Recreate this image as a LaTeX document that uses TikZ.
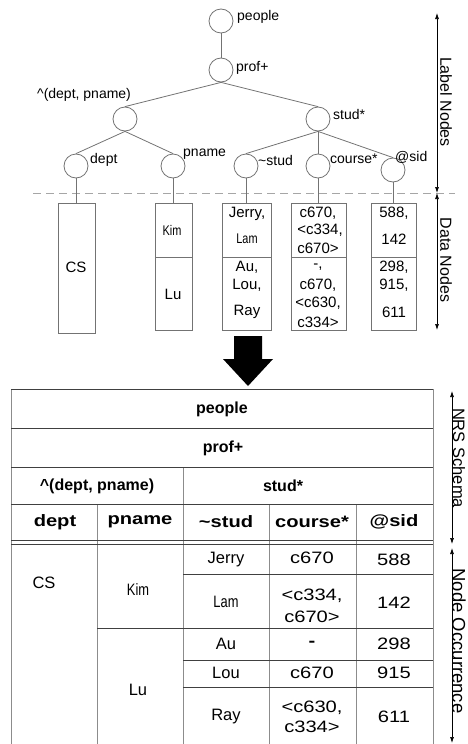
\documentclass[tikz,border=0pt]{standalone}
\usepackage{fontspec}
\setmainfont{Liberation Sans}
\newfontfamily\narrowsans[FakeStretch=0.78]{Liberation Sans}
\newfontfamily\widesans[FakeStretch=1.22]{Liberation Sans}
\usetikzlibrary{arrows.meta}

\tikzset{
  lnode/.style={circle, draw=black!55, line width=0.8pt, minimum size=24pt, inner sep=0pt},
  edge/.style={draw=black!55, line width=0.8pt},
  lbl/.style={anchor=base west, inner sep=0pt, font=\fontsize{14}{16}\selectfont},
  dbox/.style={draw=black!55, line width=0.8pt, inner sep=0pt, minimum width=#1},
  dtxt/.style={inner sep=0pt, font=\fontsize{15}{17}\selectfont},
  dnarrow/.style={inner sep=0pt, font=\narrowsans\fontsize{14}{16}\selectfont},
  hline/.style={draw=black!75, line width=0.8pt},
  vline/.style={draw=black!45, line width=0.9pt},
  thead/.style={inner sep=0pt, font=\bfseries\fontsize{16}{18}\selectfont},
  tcol/.style={inner sep=0pt, font=\widesans\bfseries\fontsize{16.5}{18}\selectfont},
  tval/.style={inner sep=0pt, font=\widesans\fontsize{16.5}{18}\selectfont},
  tname/.style={inner sep=0pt, font=\fontsize{16.5}{18}\selectfont},
  tnarrow/.style={inner sep=0pt, font=\narrowsans\fontsize{16.5}{18}\selectfont},
  dim/.style={draw=black, line width=0.7pt, {Latex[length=6pt,width=4pt]}-{Latex[length=6pt,width=4pt]}},
  side/.style={inner sep=0pt, rotate=-90, font=\fontsize{16}{18}\selectfont},
}

\begin{document}
\begin{tikzpicture}[x=1pt, y=-1pt]
\useasboundingbox (0,0) rectangle (467,744);

% ---------- label tree ----------
\node[lnode] (people) at (221,21) {};
\node[lnode] (prof)   at (221,70) {};
\node[lnode] (dp)     at (125,119) {};
\node[lnode] (stud)   at (318,119) {};
\node[lnode] (dept)   at (76,166) {};
\node[lnode] (pname)  at (173,166) {};
\node[lnode] (tstud)  at (246,166) {};
\node[lnode] (course) at (318,166) {};
\node[lnode] (sid)    at (393,170) {};

\draw[edge] (people) -- (prof);
\draw[edge] (prof.south) -- (dp.north);
\draw[edge] (prof.south) -- (stud.north);
\draw[edge] (dp.south) -- (dept.north);
\draw[edge] (dp.south) -- (pname.north);
\draw[edge] (stud.south) -- (tstud.north);
\draw[edge] (stud.south) -- (course.north);
\draw[edge] (stud.south) -- (sid.north);

\node[lbl] at (237,20) {people};
\node[lbl] at (236,71) {prof+};
\node[lbl] at (37,98) {\textasciicircum(dept, pname)};
\node[lbl] at (333,119) {stud*};
\node[lbl] at (90,163) {dept};
\node[lbl] at (183,156) {pname};
\node[lbl] at (258,165) {\textasciitilde stud};
\node[lbl] at (330,163) {course*};
\node[lbl] at (395,161) {@sid};

% separator between label nodes and data nodes
\draw[black!35, line width=1pt, dash pattern=on 8pt off 5pt] (33,193) -- (455,193);

% ---------- data nodes ----------
\node[dbox=37pt, minimum height=130pt] (bcs)  at (76.5,268) {};
\node[dbox=37pt, minimum height=54pt]  (bpnA) at (173.5,230) {};
\node[dbox=37pt, minimum height=73pt]  (bpnB) at (173.5,293.5) {};
\node[dbox=49pt, minimum height=54pt]  (bstA) at (246.5,230) {};
\node[dbox=49pt, minimum height=73pt]  (bstB) at (246.5,293.5) {};
\node[dbox=55pt, minimum height=54pt]  (bcoA) at (318.5,230) {};
\node[dbox=55pt, minimum height=73pt]  (bcoB) at (318.5,293.5) {};
\node[dbox=45pt, minimum height=54pt]  (bsiA) at (393.5,230) {};
\node[dbox=45pt, minimum height=73pt]  (bsiB) at (393.5,293.5) {};

\draw[edge] (dept.south)   -- (dept.south |- bcs.north);
\draw[edge] (pname.south)  -- (pname.south |- bpnA.north);
\draw[edge] (tstud.south)  -- (tstud.south |- bstA.north);
\draw[edge] (course.south) -- (course.south |- bcoA.north);
\draw[edge] (sid.south)    -- (sid.south |- bsiA.north);

\node[dtxt] at (76,267) {CS};
\node[dnarrow] at (172,230) {Kim};
\node[dtxt] at (173,294) {Lu};
\node[dtxt] at (247,214) {Jerry,};
\node[dnarrow] at (247,239) {Lam};
\node[dtxt] at (247,267) {Au,};
\node[dtxt] at (247,285) {Lou,};
\node[dtxt] at (247,312) {Ray};
\node[dtxt] at (318,213) {c670,};
\node[dtxt] at (320,230) {<c334,};
\node[dtxt] at (318,248) {c670>};
\node[dtxt] at (318,267) {-,};
\node[dtxt] at (318,285) {c670,};
\node[dtxt] at (318,303) {<c630,};
\node[dtxt] at (318,322) {c334>};
\node[dtxt] at (394,213) {588,};
\node[dtxt] at (394,239) {142};
\node[dtxt] at (394,267) {298,};
\node[dtxt] at (394,285) {915,};
\node[dtxt] at (394,312) {611};

% side dimension arrows of the upper part
\coordinate (lnTop) at (437,13);
\coordinate (lnMid) at (437,193);
\coordinate (dnBot) at (437,330);
\draw[dim] (lnTop) -- (lnMid);
\draw[dim] (lnMid) -- (dnBot);
\node[side] at (446,102) {Label Nodes};
\node[side] at (446,260) {Data Nodes};

% ---------- transformation arrow ----------
\fill[black] (234,336) -- (262,336) -- (262,359) -- (273,359) -- (248,386)
  -- (223,359) -- (234,359) -- cycle;

% ---------- table ----------
\draw[vline] (11,389) -- (11,744);
\draw[vline] (433,389) -- (433,744);
\draw[vline] (183,467) -- (183,744);
\draw[vline] (97,504) -- (97,744);
\draw[vline] (269,504) -- (269,744);
\draw[vline] (356,504) -- (356,744);

\draw[hline] (11,389) -- (433,389);
\draw[hline] (11,428) -- (433,428);
\draw[hline] (11,467) -- (433,467);
\draw[hline] (11,504) -- (433,504);
\draw[hline] (11,540) -- (433,540);
\draw[hline] (11,544) -- (433,544);
\draw[hline] (183,574) -- (433,574);
\draw[hline] (97,628) -- (433,628);
\draw[hline] (183,660) -- (433,660);
\draw[hline] (183,687) -- (433,687);

\node[thead] at (222,409) {people};
\node[thead] at (223,448) {prof+};
\node[thead] at (97,486) {\textasciicircum(dept, pname)};
\node[thead] at (283,486) {stud*};

\node[tcol] at (55,522) {dept};
\node[tcol] at (140,522) {pname};
\node[tcol] at (226,522) {\textasciitilde stud};
\node[tcol] at (312,522) {course*};
\node[tcol] at (394,522) {@sid};

\node[tname] at (44,583) {CS};
\node[tnarrow] at (138,590) {Kim};
\node[tname] at (138,690) {Lu};

\node[tname] at (226,560) {Jerry};
\node[tval]  at (312,558) {c670};
\node[tval]  at (394,560) {588};

\node[tnarrow] at (226,602) {Lam};
\node[tval]  at (312,596) {<c334,};
\node[tval]  at (312,617) {c670>};
\node[tval]  at (394,603) {142};

\node[tname] at (226,644) {Au};
\node[tval]  at (312,644) {\textbf{-}};
\node[tval]  at (394,644) {298};

\node[tname] at (226,673) {Lou};
\node[tval]  at (312,673) {c670};
\node[tval]  at (394,673) {915};

\node[tname] at (226,717) {Ray};
\node[tval]  at (312,708) {<c630,};
\node[tval]  at (312,727) {c334>};
\node[tval]  at (394,717) {611};

% side dimension arrows of the table
\coordinate (nrTop) at (452,391);
\coordinate (nrBot) at (452,544);
\coordinate (noTop) at (452,548);
\coordinate (noBot) at (452,743);
\draw[dim] (nrTop) -- (nrBot);
\draw[dim] (noTop) -- (noBot);
\node[side, font=\fontsize{16.5}{19}\selectfont] at (459,458) {NRS Schema};
\node[side, font=\fontsize{18.5}{21}\selectfont] at (459,641) {Node Occurrence};
\end{tikzpicture}
\end{document}
